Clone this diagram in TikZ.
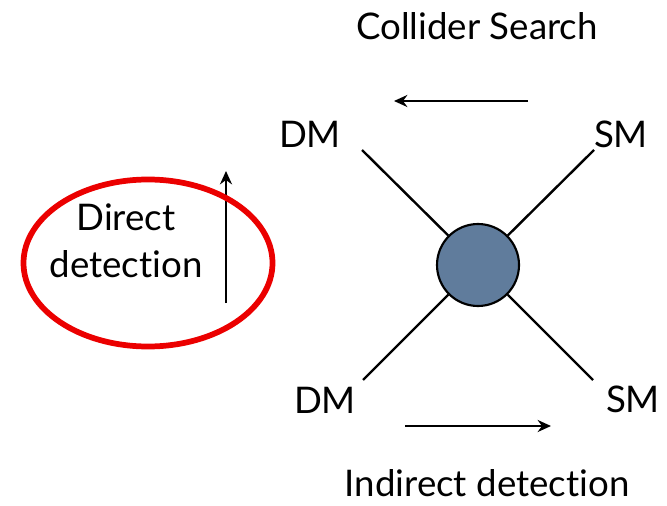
\documentclass[tikz,border=0pt]{standalone}
\usepackage{fontspec}
\setmainfont[Ligatures={NoCommon,NoDiscretionary,NoRare}]{Lato}
\usetikzlibrary{arrows.meta,shapes.geometric}
\definecolor{blob}{RGB}{96,124,156}
\definecolor{ringred}{RGB}{235,0,0}
\begin{document}
\begin{tikzpicture}[x=0.75pt,y=-0.75pt,
  lbl/.style={font=\fontsize{27.5}{33}\selectfont, inner sep=0pt},
  leg/.style={line width=1.8pt},
  arr/.style={line width=1.9pt,-{Stealth[length=10pt,width=9pt]}}]
\useasboundingbox (0,0) rectangle (667,506);
\node[lbl] (coll) at (477,26) {Collider Search};
\node[lbl] (dm1) at (310,134) {DM};
\node[lbl] (sm1) at (621,134) {SM};
\node[lbl] (dm2) at (325,400) {DM};
\node[lbl] (sm2) at (633,399) {SM};
\node[lbl] (ind) at (487,483) {Indirect detection};
\node[lbl,align=center] (dir) at (126,241) {Direct\\[2pt]detection};
\coordinate (ul) at (362,150);
\coordinate (ur) at (594,150);
\coordinate (ll) at (363,380);
\coordinate (lr) at (593,380);
\node[circle,draw,line width=1.6pt,fill=blob,minimum size=82pt*0.75,inner sep=0pt] (blobc) at (478,265) {};
\draw[leg] (ul) -- (blobc);
\draw[leg] (ur) -- (blobc);
\draw[leg] (ll) -- (blobc);
\draw[leg] (lr) -- (blobc);
\coordinate (ta) at (528,101);
\coordinate (tb) at (394,101);
\draw[arr] (ta) -- (tb);
\coordinate (ba) at (405,426);
\coordinate (bb) at (551,426);
\draw[arr] (ba) -- (bb);
\coordinate (va) at (226,303);
\coordinate (vb) at (226,171);
\draw[arr] (va) -- (vb);
\node[draw=ringred,line width=4.3pt,ellipse,minimum width=249pt*0.75,minimum height=167pt*0.75,inner sep=0pt] (ring) at (148,263) {};
\end{tikzpicture}
\end{document}
